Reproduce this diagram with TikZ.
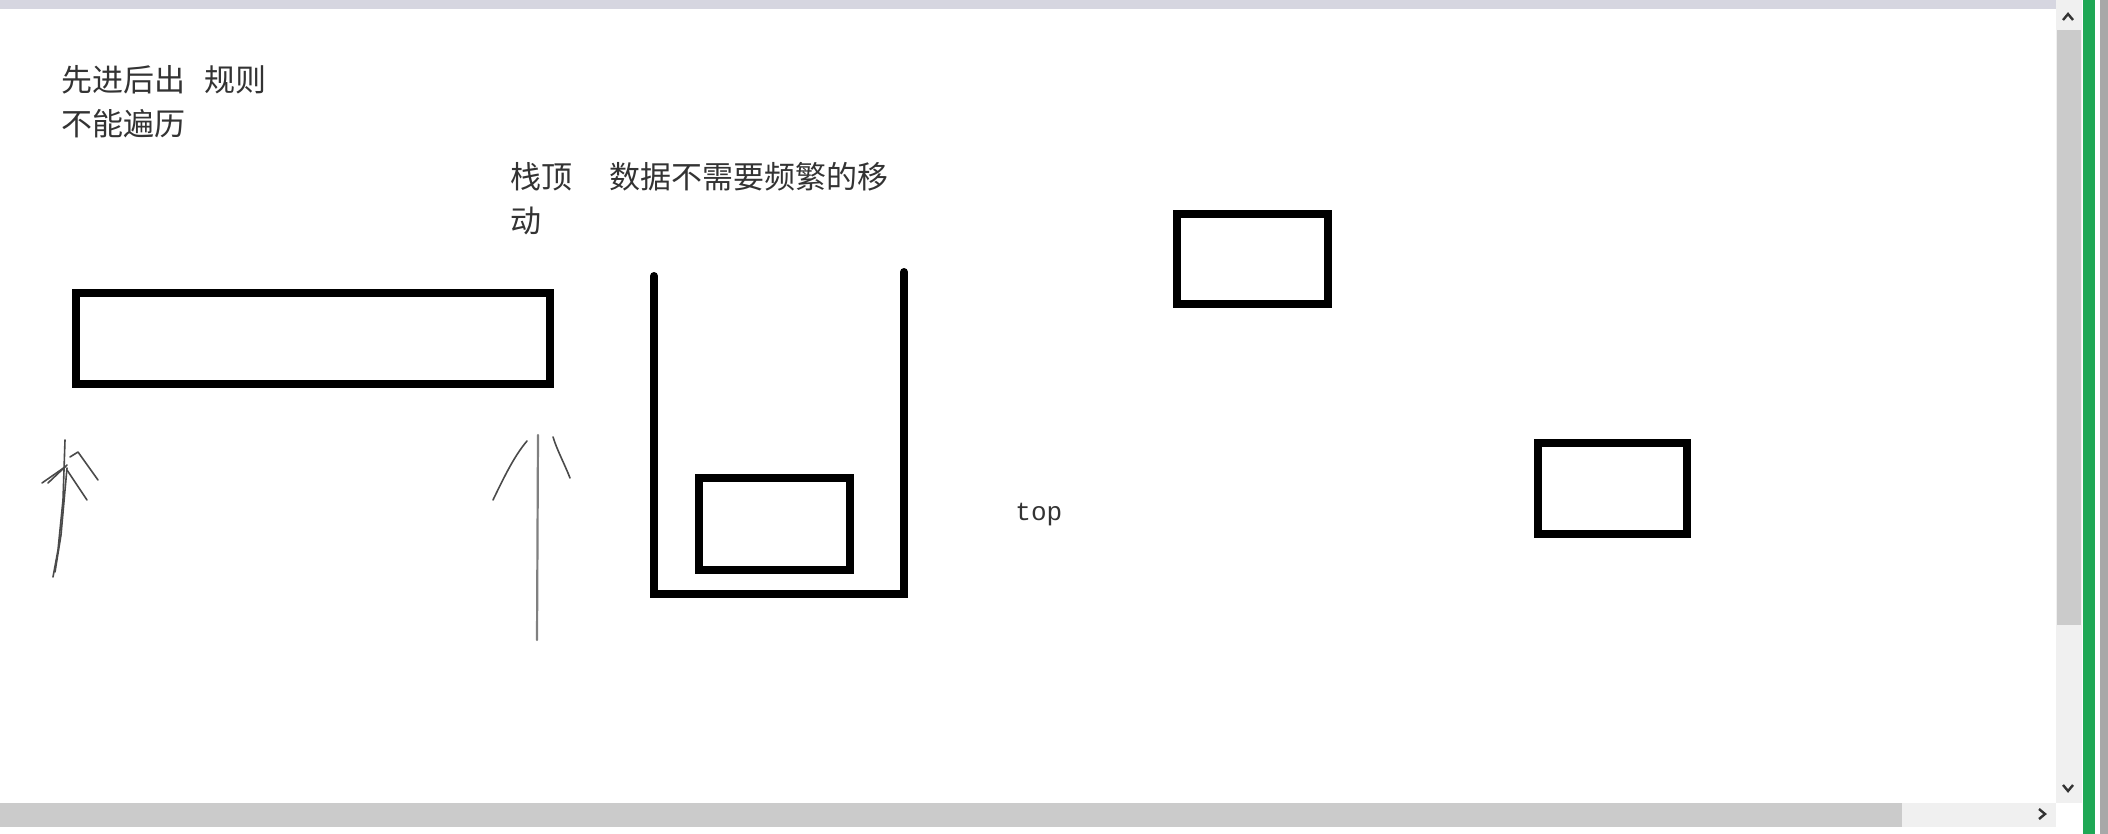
\documentclass[tikz,border=0pt]{standalone}
\usepackage{fontspec}
\setmainfont{Liberation Serif}
\newfontfamily\cjkfont{Noto Sans CJK SC}
\newfontfamily\latinmono{Liberation Mono}
\usetikzlibrary{positioning}
\definecolor{lavbar}{HTML}{D6D6E0}
\definecolor{thumbgray}{HTML}{CBCBCB}
\definecolor{trackgray}{HTML}{F0F0F0}
\definecolor{edgegreen}{HTML}{1FA855}
\definecolor{edgegray}{HTML}{A8A8A8}
\definecolor{inkgray}{HTML}{333333}
\definecolor{pengray}{HTML}{4A4A4A}
\tikzstyle{stackbox}=[line width=4pt, line cap=round, line join=miter]
\tikzstyle{handline}=[pengray, line width=0.8pt, line cap=round, line join=round]
\tikzstyle{note}=[inner sep=0pt, anchor=base west, align=left, text=inkgray, font=\cjkfont\fontsize{15.5}{22}\selectfont]
\newcommand{\drawstackbox}[4]{
  \draw[stackbox] (#1,#2) rectangle (#3,#4);
}

\begin{document}
\begin{tikzpicture}[x=0.5pt,y=-0.5pt]
	% canvas and window frame
	\fill[white] (0,0) rectangle (2108,834);
	\useasboundingbox (0,0) rectangle (2108,834);
	\fill[lavbar] (0,0) rectangle (2056,9);
	\fill[trackgray] (2056,0) rectangle (2082,803);
	\fill[thumbgray] (2057,30) rectangle (2081,625);
	\fill[trackgray] (0,803) rectangle (2056,827);
	\fill[thumbgray] (0,803) rectangle (1902,827);
	\fill[edgegreen] (2083,0) rectangle (2095,834);
	\fill[edgegray] (2100,0) rectangle (2108,834);
	\draw[inkgray, line width=1.2pt] (2063,20) -- (2068,14) -- (2073,20); % up
	\draw[inkgray, line width=1.2pt] (2063,785) -- (2068,791) -- (2073,785); % down
	\draw[inkgray, line width=1.2pt] (2039,809) -- (2045,814) -- (2039,819); % right

	% texts (base = last line)
	\node[note] (rule) at (61,136) {先进后出\hspace{0.6em}规则\\不能遍历};
	\node[note] (stacktop) at (510,233) {栈顶\hspace{1.2em}数据不需要频繁的移\\动};
	\node[inner sep=0pt, anchor=base west, text=inkgray, font=\latinmono\fontsize{13}{15}\selectfont] (toplabel) at (1015,520) {top};

	% boxes
	\foreach \xa/\ya/\xb/\yb in {76/293/550/384, 699/478/850/570, 1177/214/1328/304, 1538/443/1687/534} {
	  \drawstackbox{\xa}{\ya}{\xb}{\yb}
	}

	% the stack
	\draw[stackbox] (654,276) -- (654,594) -- (904,594) -- (904,272);

	% left arrow (scribbled)
	\draw[handline] (65,440) -- (63,500) -- (58,550) -- (53,577);
	\draw[handline] (67,468) -- (61,535) -- (55,572);
	\draw[handline] (42,483) -- (65,467);
	\draw[handline] (48,483) -- (67,465);
	\draw[handline] (67,470) -- (87,500);
	\draw[handline] (70,457) -- (78,452) -- (98,480);

	% right arrow
	\draw[handline, gray, line width=1.1pt] (538,435) -- (537,640);
	\draw[handline] (493,500) .. controls (505,475) and (515,455) .. (527,441);
	\draw[handline] (553,437) .. controls (557,450) and (565,465) .. (570,478);
\end{tikzpicture}
\end{document}
